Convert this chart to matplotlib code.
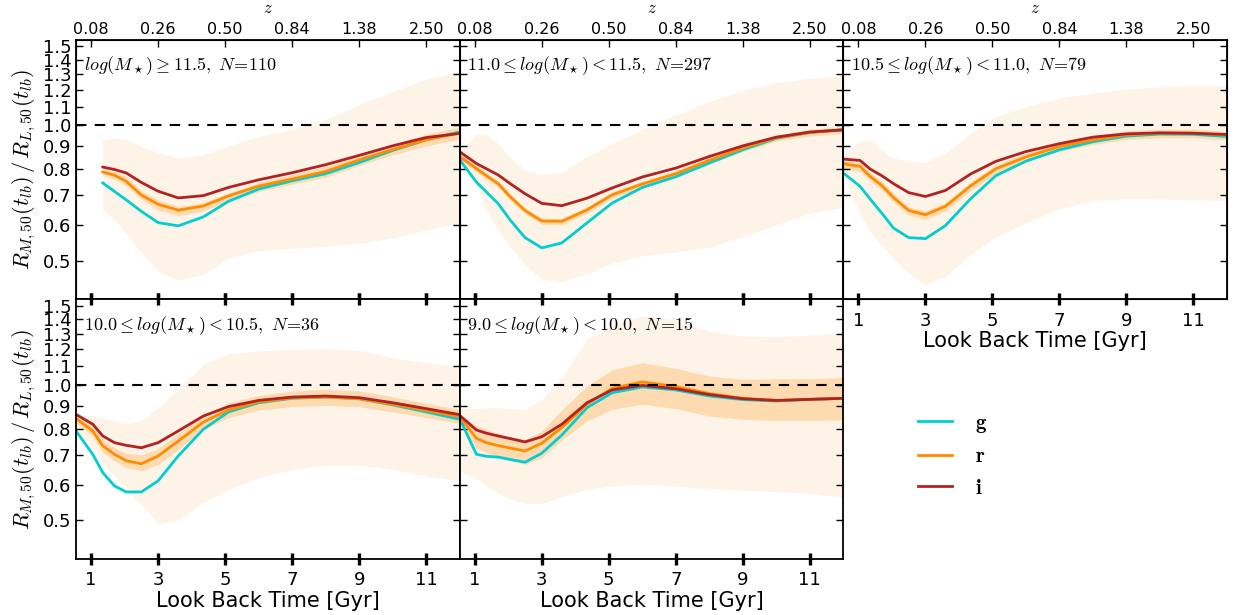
import numpy as np
import matplotlib
matplotlib.use("Agg")
import matplotlib.pyplot as plt
from matplotlib.ticker import NullLocator

plt.rcParams["mathtext.fontset"] = "cm"
plt.rcParams["font.family"] = ["DejaVu Sans"]

nan = np.nan

# look back time grid [Gyr]
t_lb = [0.55, 1.05, 1.35, 1.7, 2.05, 2.5, 3.0, 3.6, 4.35, 5.1, 6.0, 7.0, 8.0, 9.0, 10.0, 11.0, 12.0]

z_ticks = [1, 3, 5, 7, 9, 11]
z_labels = ["0.08", "0.26", "0.50", "0.84", "1.38", "2.50"]

titles = [
    r"$log(M_\star)\geq 11.5,\ N\!=\!110$",
    r"$11.0\leq log(M_\star)<11.5,\ N\!=\!297$",
    r"$10.5\leq log(M_\star)<11.0,\ N\!=\!79$",
    r"$10.0\leq log(M_\star)<10.5,\ N\!=\!36$",
    r"$9.0\leq log(M_\star)<10.0,\ N\!=\!15$",
]

# panel 1: log(M) >= 11.5
p1_g = [nan, nan, 0.745, 0.713, 0.683, 0.644, 0.608, 0.598, 0.626, 0.678, 0.722, 0.753, 0.781, 0.827, 0.880, 0.929, 0.968]
p1_r = [nan, nan, 0.788, 0.775, 0.751, 0.700, 0.668, 0.648, 0.662, 0.697, 0.733, 0.760, 0.790, 0.838, 0.884, 0.929, 0.963]
p1_i = [nan, nan, 0.808, 0.798, 0.784, 0.747, 0.714, 0.690, 0.698, 0.728, 0.757, 0.785, 0.818, 0.858, 0.901, 0.940, 0.960]
p1_hi = [nan, nan, 0.929, 0.937, 0.933, 0.898, 0.871, 0.846, 0.861, 0.901, 0.945, 0.982, 1.033, 1.112, 1.190, 1.268, 1.318]
p1_lo = [nan, nan, 0.649, 0.617, 0.576, 0.520, 0.473, 0.453, 0.466, 0.507, 0.527, 0.533, 0.538, 0.547, 0.562, 0.586, 0.606]
p1_ehi = [nan, nan, 0.801, 0.790, 0.770, 0.715, 0.683, 0.660, 0.674, 0.707, 0.747, 0.777, 0.811, 0.858, 0.909, 0.957, 0.992]
p1_elo = [nan, nan, 0.774, 0.760, 0.735, 0.685, 0.649, 0.630, 0.646, 0.680, 0.713, 0.740, 0.767, 0.815, 0.860, 0.901, 0.932]

# panel 2: 11.0 - 11.5
p2_g = [0.839, 0.748, 0.711, 0.670, 0.617, 0.563, 0.534, 0.548, 0.607, 0.672, 0.728, 0.769, 0.825, 0.883, 0.936, 0.965, 0.978]
p2_r = [0.853, 0.802, 0.773, 0.742, 0.695, 0.647, 0.613, 0.612, 0.649, 0.701, 0.741, 0.781, 0.836, 0.891, 0.939, 0.965, 0.978]
p2_i = [0.874, 0.823, 0.801, 0.776, 0.743, 0.705, 0.671, 0.663, 0.689, 0.726, 0.768, 0.804, 0.853, 0.901, 0.942, 0.967, 0.978]
p2_hi = [0.880, 0.955, 0.955, 0.911, 0.853, 0.794, 0.778, 0.786, 0.853, 0.911, 0.982, 1.056, 1.131, 1.196, 1.246, 1.273, 1.290]
p2_lo = [0.840, 0.740, 0.645, 0.585, 0.538, 0.490, 0.455, 0.448, 0.468, 0.494, 0.513, 0.523, 0.536, 0.566, 0.601, 0.638, 0.657]
p2_ehi = [0.866, 0.815, 0.785, 0.753, 0.706, 0.657, 0.622, 0.621, 0.659, 0.712, 0.752, 0.793, 0.849, 0.904, 0.953, 0.980, 0.993]
p2_elo = [0.839, 0.789, 0.760, 0.729, 0.683, 0.636, 0.602, 0.601, 0.638, 0.689, 0.728, 0.767, 0.822, 0.875, 0.923, 0.948, 0.961]

# panel 3: 10.5 - 11.0
p3_g = [0.784, 0.732, 0.686, 0.638, 0.591, 0.563, 0.560, 0.599, 0.687, 0.773, 0.833, 0.883, 0.920, 0.947, 0.957, 0.956, 0.945]
p3_r = [0.822, 0.811, 0.770, 0.735, 0.691, 0.647, 0.633, 0.661, 0.734, 0.801, 0.851, 0.898, 0.929, 0.953, 0.962, 0.962, 0.952]
p3_i = [0.842, 0.836, 0.800, 0.773, 0.742, 0.709, 0.695, 0.717, 0.780, 0.832, 0.875, 0.911, 0.942, 0.958, 0.963, 0.961, 0.955]
p3_hi = [0.860, 0.925, 0.930, 0.883, 0.846, 0.832, 0.827, 0.868, 0.962, 1.047, 1.102, 1.151, 1.181, 1.205, 1.221, 1.227, 1.227]
p3_lo = [0.780, 0.635, 0.580, 0.540, 0.505, 0.468, 0.442, 0.461, 0.516, 0.565, 0.607, 0.652, 0.681, 0.687, 0.686, 0.684, 0.680]
p3_ehi = [0.839, 0.827, 0.786, 0.751, 0.706, 0.660, 0.646, 0.674, 0.749, 0.818, 0.868, 0.917, 0.948, 0.973, 0.981, 0.981, 0.971]
p3_elo = [0.802, 0.791, 0.752, 0.718, 0.675, 0.632, 0.618, 0.645, 0.717, 0.782, 0.830, 0.877, 0.907, 0.931, 0.939, 0.939, 0.929]

# panel 4: 10.0 - 10.5
p4_g = [0.790, 0.701, 0.638, 0.596, 0.578, 0.578, 0.612, 0.695, 0.797, 0.871, 0.913, 0.934, 0.940, 0.932, 0.903, 0.871, 0.839]
p4_r = [0.842, 0.790, 0.732, 0.701, 0.678, 0.668, 0.695, 0.750, 0.827, 0.880, 0.917, 0.936, 0.940, 0.932, 0.906, 0.878, 0.850]
p4_i = [0.860, 0.818, 0.770, 0.744, 0.734, 0.725, 0.744, 0.790, 0.853, 0.895, 0.924, 0.940, 0.945, 0.937, 0.913, 0.886, 0.859]
p4_hi = [0.856, 0.855, 0.846, 0.832, 0.820, 0.834, 0.890, 0.978, 1.112, 1.174, 1.190, 1.200, 1.204, 1.194, 1.150, 1.121, 1.099]
p4_lo = [0.800, 0.726, 0.672, 0.627, 0.586, 0.542, 0.490, 0.501, 0.547, 0.586, 0.622, 0.649, 0.663, 0.663, 0.649, 0.627, 0.612]
p4_ehi = [0.860, 0.811, 0.757, 0.725, 0.705, 0.699, 0.722, 0.779, 0.856, 0.913, 0.948, 0.970, 0.978, 0.970, 0.942, 0.910, 0.883]
p4_elo = [0.824, 0.770, 0.707, 0.678, 0.655, 0.644, 0.666, 0.719, 0.797, 0.846, 0.880, 0.895, 0.901, 0.895, 0.871, 0.846, 0.822]

# panel 5: 9.0 - 10.0
p5_g = [0.842, 0.701, 0.694, 0.691, 0.683, 0.673, 0.705, 0.774, 0.890, 0.961, 0.990, 0.975, 0.945, 0.928, 0.921, 0.929, 0.934]
p5_r = [0.850, 0.761, 0.744, 0.733, 0.724, 0.713, 0.742, 0.804, 0.906, 0.983, 1.016, 0.992, 0.957, 0.934, 0.924, 0.929, 0.934]
p5_i = [0.856, 0.794, 0.781, 0.770, 0.760, 0.747, 0.767, 0.818, 0.913, 0.975, 0.998, 0.981, 0.952, 0.932, 0.924, 0.929, 0.934]
p5_hi = [0.890, 0.886, 0.890, 0.890, 0.887, 0.883, 0.929, 1.038, 1.264, 1.358, 1.424, 1.395, 1.318, 1.285, 1.281, 1.290, 1.307]
p5_lo = [0.640, 0.620, 0.595, 0.575, 0.558, 0.545, 0.545, 0.565, 0.586, 0.596, 0.601, 0.596, 0.588, 0.583, 0.579, 0.574, 0.562]
p5_ehi = [0.856, 0.813, 0.797, 0.781, 0.767, 0.757, 0.790, 0.880, 0.995, 1.080, 1.121, 1.089, 1.047, 1.029, 1.033, 1.033, 1.038]
p5_elo = [0.832, 0.725, 0.707, 0.693, 0.681, 0.666, 0.689, 0.754, 0.832, 0.883, 0.906, 0.886, 0.853, 0.839, 0.834, 0.834, 0.836]

panels = [
    (p1_g, p1_r, p1_i, p1_hi, p1_lo, p1_ehi, p1_elo),
    (p2_g, p2_r, p2_i, p2_hi, p2_lo, p2_ehi, p2_elo),
    (p3_g, p3_r, p3_i, p3_hi, p3_lo, p3_ehi, p3_elo),
    (p4_g, p4_r, p4_i, p4_hi, p4_lo, p4_ehi, p4_elo),
    (p5_g, p5_r, p5_i, p5_hi, p5_lo, p5_ehi, p5_elo),
]

c_g = "#00CED1"
c_r = "#FF8C00"
c_i = "#B22222"
c_band = "#FEF3E7"
c_err = "#FDDAB0"

yticks = [0.5, 0.6, 0.7, 0.8, 0.9, 1.0, 1.1, 1.2, 1.3, 1.4, 1.5]
ylabel = r"$R_{M,50}(t_{lb})\,/\,R_{L,50}(t_{lb})$"


def main() -> None:
    fig = plt.figure(figsize=(12.34, 6.15), dpi=100)
    gs = fig.add_gridspec(2, 3, left=0.0616, right=0.9943, top=0.935, bottom=0.0911,
                          wspace=0, hspace=0)
    x = np.array(t_lb)
    for k, (g, r, i, hi, lo, ehi, elo) in enumerate(panels):
        row, col = divmod(k, 3)
        ax = fig.add_subplot(gs[row, col])
        ax.set_yscale("log")
        ax.fill_between(x, lo, hi, color=c_band, lw=0)
        ax.fill_between(x, elo, ehi, color=c_err, lw=0)
        ax.plot(x, g, color=c_g, lw=2, label=r"$\mathbf{g}$")
        ax.plot(x, r, color=c_r, lw=2, label=r"$\mathbf{r}$")
        ax.plot(x, i, color=c_i, lw=2, label=r"$\mathbf{i}$")
        ax.axhline(1.0, color="k", ls="--", lw=1.5, dashes=(5, 4))
        ax.set_xlim(0.55, 12.0)
        ax.set_ylim(0.41, 1.55)
        ax.set_yticks(yticks)
        ax.yaxis.set_minor_locator(NullLocator())
        ax.set_xticks(z_ticks)
        ax.text(0.02, 0.90, titles[k], transform=ax.transAxes, fontsize=13, va="center")
        for s in ax.spines.values():
            s.set_linewidth(1.3)
        ax.tick_params(axis="y", which="major", direction="in", length=5, width=1,
                       left=True, right=True, labelsize=13)
        ax.tick_params(axis="x", which="major", direction="inout", length=8, width=2.4,
                       top=(row == 1), bottom=True, labelsize=13, pad=5)
        if col == 0:
            ax.set_yticklabels([f"{v:.1f}" for v in yticks])
            ax.set_ylabel(ylabel, fontsize=16, labelpad=3)
        else:
            ax.set_yticklabels([])
        if row == 1 or k == 2:
            ax.set_xticklabels([str(v) for v in z_ticks])
            ax.set_xlabel("Look Back Time [Gyr]", fontsize=15, labelpad=1)
        else:
            ax.set_xticklabels([])
        if row == 0:
            top = ax.twiny()
            top.set_xlim(ax.get_xlim())
            top.set_xticks(z_ticks)
            top.set_xticklabels(z_labels)
            top.tick_params(axis="x", direction="in", length=5, width=1, labelsize=11.5, pad=2.5)
            top.set_xlabel(r"$z$", fontsize=12, labelpad=6)
        if k == 4:
            handles, labels = ax.get_legend_handles_labels()

    fig.legend(handles, labels, loc="center", bbox_to_anchor=(0.772, 0.26),
               frameon=False, fontsize=15, handlelength=1.65, labelspacing=0.55,
               handletextpad=1.1)
    fig.savefig("out.png", dpi=100)


if __name__ == "__main__":
    main()
